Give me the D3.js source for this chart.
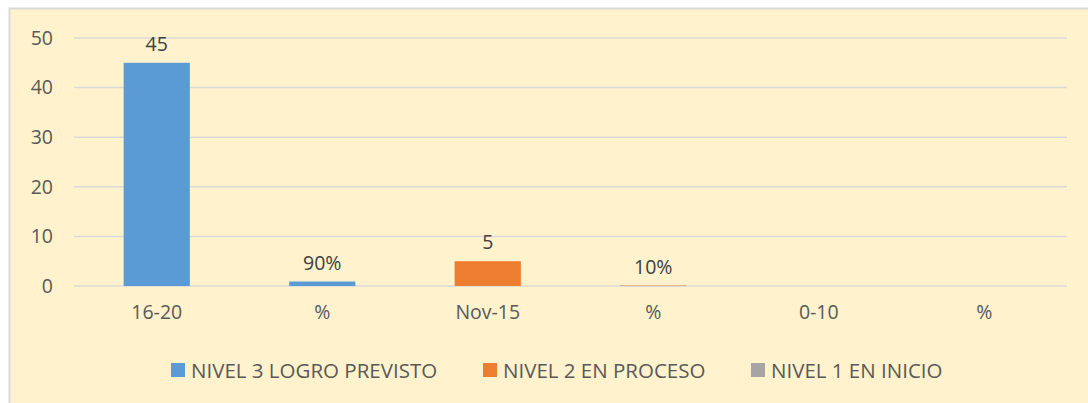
<!DOCTYPE html>
<html>
<head>
<meta charset="utf-8">
<script src="https://cdn.jsdelivr.net/npm/d3@7"></script>
<style>
  html, body { margin: 0; padding: 0; background: #fff; }
  svg { display: block; }
  text { font-family: "Open Sans", "Noto Sans", sans-serif; fill: #595959; }
</style>
</head>
<body>
<svg id="chart" width="1088" height="403"></svg>
<script>
// Score ranges and their shares, three achievement levels stacked per column
const categories = ["16-20", "%", "Nov-15", "%", "0-10", "%"];
const nivel3 = [45, 0.9, 0, 0, 0, 0];
const nivel2 = [0, 0, 5, 0.1, 0, 0];
const nivel1 = [0, 0, 0, 0, 0, 0];
const seriesNames = ["NIVEL 3 LOGRO PREVISTO", "NIVEL 2 EN PROCESO", "NIVEL 1 EN INICIO"];
const seriesColors = ["#5B9BD5", "#ED7D31", "#A5A5A5"];
const yTicks = [0, 10, 20, 30, 40, 50];

const FS = 19.5;
const svg = d3.select("#chart");
const W = 1088, H = 403;

// chart area background and frame
svg.append("rect")
  .attr("x", 9.5).attr("y", 8.5)
  .attr("width", W).attr("height", H)
  .attr("fill", "#FFF2CC")
  .attr("stroke", "#D9D9D9").attr("stroke-width", 2);

const plot = { left: 74, right: 1067, top: 38, bottom: 286 };

const rows = categories.map((c, i) => ({
  idx: i, cat: c,
  n3: nivel3[i], n2: nivel2[i], n1: nivel1[i]
}));
const keys = ["n3", "n2", "n1"];
const stacked = d3.stack().keys(keys)(rows);

const x = d3.scaleBand()
  .domain(rows.map(r => r.idx))
  .range([plot.left, plot.right])
  .padding(0);
const barW = x.bandwidth() * 0.4;

const y = d3.scaleLinear().domain([0, 50]).range([plot.bottom, plot.top]);

// horizontal gridlines
svg.append("g")
  .selectAll("line")
  .data(yTicks)
  .join("line")
  .attr("x1", plot.left).attr("x2", plot.right)
  .attr("y1", d => y(d)).attr("y2", d => y(d))
  .attr("stroke", "#D9D9D9").attr("stroke-width", 1.5);

// y axis labels
const yAxis = d3.axisLeft(y).tickValues(yTicks).tickSize(0).tickPadding(0);
const yg = svg.append("g")
  .attr("transform", `translate(${plot.left - 21},0)`)
  .call(yAxis);
yg.select(".domain").remove();
yg.attr("font-size", FS).attr("font-family", null);
yg.selectAll("text").attr("fill", "#595959");

// x axis labels
const xAxis = d3.axisBottom(x).tickFormat(i => categories[i]).tickSize(0).tickPadding(0);
const xg = svg.append("g")
  .attr("transform", `translate(0,${plot.bottom + 19})`)
  .call(xAxis);
xg.select(".domain").remove();
xg.attr("font-size", FS).attr("font-family", null);
xg.selectAll("text").attr("fill", "#595959");

// stacked bars
const layers = svg.append("g")
  .selectAll("g")
  .data(stacked)
  .join("g")
  .attr("fill", (d, i) => seriesColors[i]);

layers.selectAll("rect")
  .data(d => d.filter(p => p[1] - p[0] > 0))
  .join("rect")
  .attr("x", p => x(p.data.idx) + (x.bandwidth() - barW) / 2)
  .attr("width", barW)
  .attr("y", p => y(p[1]))
  .attr("height", p => y(p[0]) - y(p[1]));

// value labels: plain counts, shares shown as percentages
const fmtPct = d3.format(".0%");
layers.selectAll("text")
  .data(d => d.filter(p => p[1] - p[0] > 0))
  .join("text")
  .attr("x", p => x(p.data.idx) + x.bandwidth() / 2)
  .attr("y", p => y(p[1]) - 12)
  .attr("text-anchor", "middle")
  .attr("font-size", FS)
  .style("fill", "#404040")
  .text(p => {
    const v = p[1] - p[0];
    return p.data.cat === "%" ? fmtPct(v) : String(v);
  });

// legend
const legendX = [171, 483, 751];
const lg = svg.append("g")
  .selectAll("g")
  .data(seriesNames)
  .join("g")
  .attr("transform", (d, i) => `translate(${legendX[i]},363)`);
lg.append("rect")
  .attr("width", 14).attr("height", 14)
  .attr("fill", (d, i) => seriesColors[i]);
lg.append("text")
  .attr("x", 20).attr("y", 14.5)
  .attr("font-size", 20.5)
  .text(d => d);
</script>
</body>
</html>
